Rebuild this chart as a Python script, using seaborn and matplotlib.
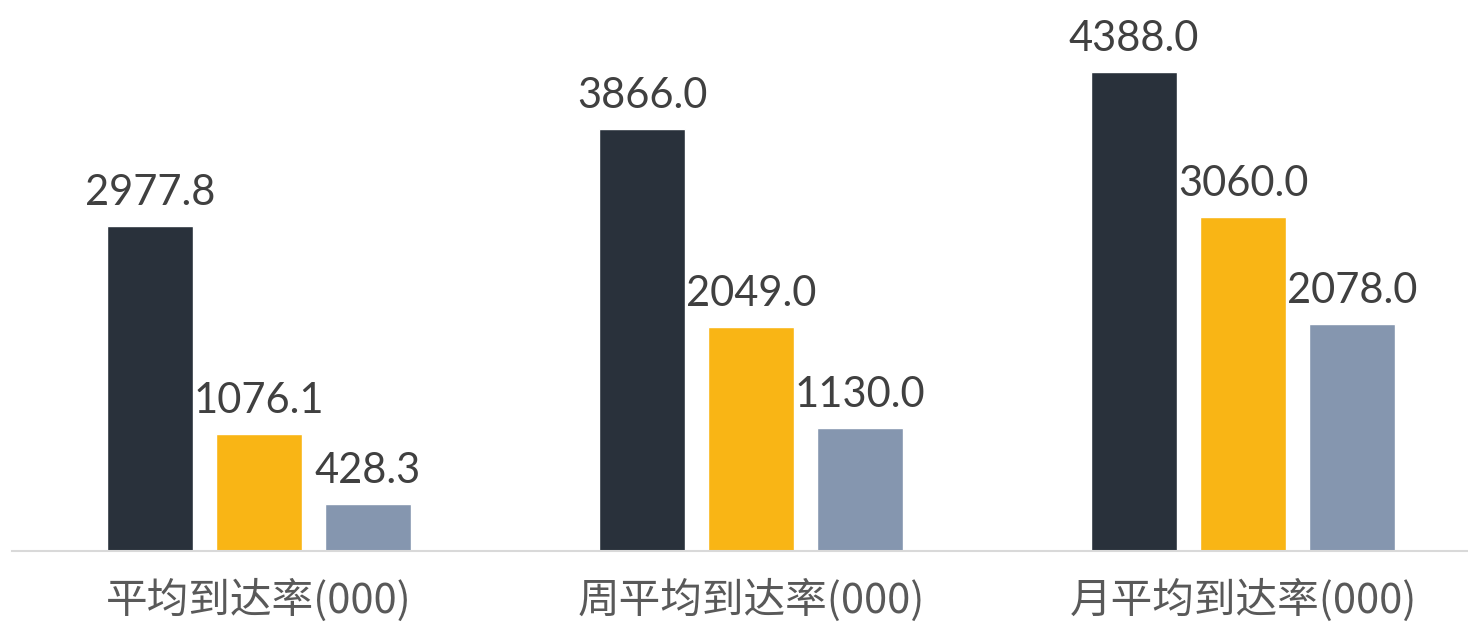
import matplotlib
matplotlib.use("Agg")
import matplotlib.pyplot as plt
import seaborn as sns
import pandas as pd

categories = ["平均到达率(000)", "周平均到达率(000)", "月平均到达率(000)"]
series_names = ["系列1", "系列2", "系列3"]
series1 = [2977.8, 3866.0, 4388.0]
series2 = [1076.1, 2049.0, 3060.0]
series3 = [428.3, 1130.0, 2078.0]
colors = ["#29313b", "#f9b515", "#8596af"]

rows = []
for name, vals in zip(series_names, [series1, series2, series3]):
    for c, v in zip(categories, vals):
        rows.append({"category": c, "series": name, "value": v})
df = pd.DataFrame(rows)

sns.set_theme(style="white")
plt.rcParams["font.family"] = ["Noto Sans CJK SC", "DejaVu Sans"]

fig = plt.figure(figsize=(14.68, 6.26), dpi=100)
ax = fig.add_axes([12 / 1468, 75 / 626, 1 - 12 / 1468, 551 / 626])

sns.barplot(data=df, x="category", y="value", hue="series", order=categories,
            hue_order=series_names, palette=colors, width=0.665, gap=0.21,
            saturation=1, legend=False, ax=ax, errorbar=None)

for cont in ax.containers:
    ax.bar_label(cont, fmt="%.1f", padding=10, fontsize=30, color="#404040",
                 family=["Lato", "DejaVu Sans"], fontweight="normal")

ax.set_xlim(-0.502, 2.457)
ax.set_ylim(0, 5048)
ax.set_xlabel("")
ax.set_ylabel("")
ax.set_yticks([])
ax.tick_params(axis="x", length=0, pad=20, labelsize=30, labelcolor="#595959")
for s in ["top", "right", "left"]:
    ax.spines[s].set_visible(False)
ax.spines["bottom"].set_color("#d9d9d9")
ax.spines["bottom"].set_linewidth(1.5)

fig.savefig("out.png", dpi=100)
